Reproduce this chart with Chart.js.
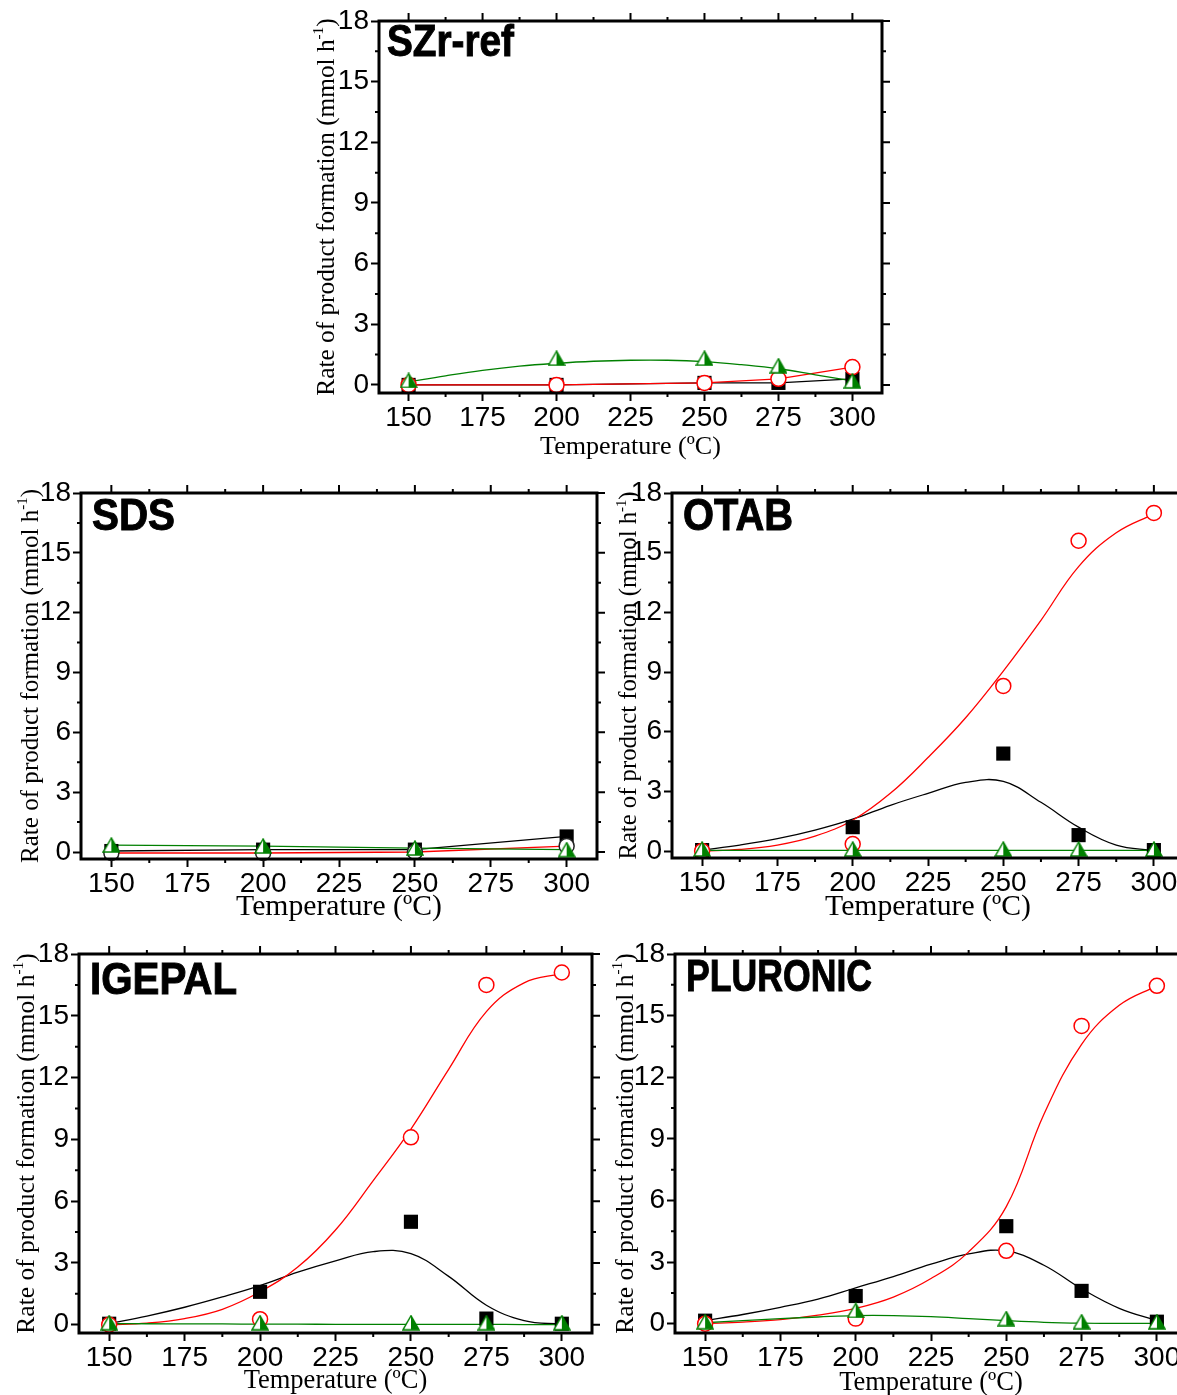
<!DOCTYPE html>
<html>
<head>
<meta charset="utf-8">
<script src="https://cdn.jsdelivr.net/npm/chart.js@4.4.1/dist/chart.umd.min.js"></script>
<style>
  html, body { margin: 0; padding: 0; background: #fff; }
  #page { position: relative; width: 1177px; height: 1395px; overflow: hidden; background: #fff; }
  #page canvas { position: absolute; }
</style>
</head>
<body>
<div id="page"></div>
<script>
// measured temperatures (ºC)
var temps = [150, 200, 250, 275, 300];
var sdsTemps = [150, 200, 250, 300];
var fitTemps = [150, 162.5, 175, 187.5, 200, 212.5, 225, 237.5, 250, 262.5, 275, 287.5, 300];
var xTicks = [150, 175, 200, 225, 250, 275, 300];
var yTicks = [0, 3, 6, 9, 12, 15, 18];

// SZr-ref
var szrSquare = [0, 0, 0.1, 0.1, 0.3];
var szrCircle = [0, 0, 0.1, 0.3, 0.88];
var szrTriangle = [0.22, 1.32, 1.32, 0.95, 0.2];
var szrTriangleFit = [0.15, 0.45, 0.72, 0.93, 1.07, 1.17, 1.22, 1.22, 1.15, 1.0, 0.8, 0.5, 0.2];

// SDS
var sdsSquare = [0.05, 0.12, 0.12, 0.78];
var sdsCircle = [-0.05, -0.05, 0, 0.3];
var sdsTriangle = [0.35, 0.3, 0.2, 0.12];

// OTAB
var otabSquare = [0.05, 1.2, 4.9, 0.8, 0.05];
var otabCircle = [0, 0.35, 8.3, 15.6, 17.0];
var otabTriangle = [0.1, 0.1, 0.1, 0.1, 0.1];
var otabSquareFit = [0.05, 0.3, 0.62, 1.05, 1.6, 2.3, 2.9, 3.45, 3.5, 2.45, 1.2, 0.3, 0.03];
var otabCircleFit = [0, 0.08, 0.3, 0.75, 1.55, 2.9, 4.7, 6.7, 9.05, 11.6, 14.3, 16.0, 16.95];
var otabTriangleFit = [0.03, 0.03, 0.03, 0.03, 0.03, 0.03, 0.03, 0.03, 0.03, 0.03, 0.03, 0.03, 0.03];

// IGEPAL
var igepalSquare = [0.05, 1.6, 5.0, 0.3, 0.05];
var igepalCircle = [0, 0.27, 9.1, 16.5, 17.1];
var igepalTriangle = [0.1, 0.1, 0.1, 0.1, 0.1];
var igepalSquareFit = [0.05, 0.42, 0.85, 1.35, 1.9, 2.55, 3.1, 3.55, 3.45, 2.35, 0.95, 0.2, 0.02];
var igepalCircleFit = [0, 0.08, 0.3, 0.75, 1.6, 2.8, 4.6, 7.0, 9.5, 12.4, 15.2, 16.6, 17.05];
var igepalTriangleFit = [0.05, 0.05, 0.04, 0.04, 0.03, 0.03, 0.02, 0.02, 0.02, 0.02, 0.02, 0.01, 0.01];

// PLURONIC
var pluSquare = [0.15, 1.35, 4.75, 1.6, 0.1];
var pluCircle = [0, 0.25, 3.55, 14.5, 16.45];
var pluTriangle = [0.1, 0.65, 0.25, 0.1, 0.1];
var pluSquareFit = [0.15, 0.45, 0.8, 1.2, 1.75, 2.3, 2.9, 3.4, 3.55, 2.85, 1.7, 0.75, 0.15];
var pluCircleFit = [0, 0.08, 0.2, 0.42, 0.75, 1.3, 2.2, 3.5, 5.7, 10.2, 13.6, 15.5, 16.45];
var pluTriangleFit = [0.05, 0.15, 0.25, 0.33, 0.4, 0.4, 0.35, 0.25, 0.15, 0.07, 0.03, 0.02, 0.02];

var RED = '#ff0000', GREEN = '#008000', BLACK = '#000000';
var TICK_FONT = "'Liberation Sans Narrow', 'Liberation Sans', Arial, sans-serif";
var SERIF = "'Liberation Serif', 'Times New Roman', serif";

function pts(xs, ys) {
  return xs.map(function (x, i) { return { x: x, y: ys[i] }; });
}

function halfTriangle(color) {
  var w = 18, h = 16;
  var c = document.createElement('canvas');
  c.width = w; c.height = h;
  var g = c.getContext('2d');
  g.fillStyle = '#fff';
  g.beginPath(); g.moveTo(w / 2, 1); g.lineTo(1, h - 1); g.lineTo(w / 2, h - 1); g.closePath(); g.fill();
  g.fillStyle = color;
  g.beginPath(); g.moveTo(w / 2, 1); g.lineTo(w - 1, h - 1); g.lineTo(w / 2, h - 1); g.closePath(); g.fill();
  g.strokeStyle = color; g.lineWidth = 1.5; g.lineJoin = 'miter';
  g.beginPath(); g.moveTo(w / 2, 1); g.lineTo(1, h - 1); g.lineTo(w - 1, h - 1); g.closePath(); g.stroke();
  return c;
}
var triImg = halfTriangle(GREEN);

// frame, minor/mirror ticks, axis titles and panel name
var framePlugin = {
  id: 'frame',
  afterDraw: function (chart, args, o) {
    var ctx = chart.ctx, a = chart.chartArea;
    var xs = chart.scales.x, ys = chart.scales.y;
    ctx.save();
    ctx.strokeStyle = '#000';
    ctx.lineWidth = 2;
    ctx.beginPath();
    var v, p, len;
    for (v = 150; v <= xs.max; v += 12.5) {
      p = xs.getPixelForValue(v);
      len = (v % 25 === 0) ? 8 : 4;
      if (v % 25 !== 0) { ctx.moveTo(p, a.bottom); ctx.lineTo(p, a.bottom + len); }
      ctx.moveTo(p, a.top); ctx.lineTo(p, a.top - len);
    }
    for (v = 0; v <= 18; v += 1.5) {
      p = ys.getPixelForValue(v);
      len = (v % 3 === 0) ? 8 : 4;
      if (v % 3 !== 0) { ctx.moveTo(a.left, p); ctx.lineTo(a.left - len, p); }
      ctx.moveTo(a.right, p); ctx.lineTo(a.right + len, p);
    }
    ctx.stroke();
    ctx.lineWidth = 3;
    ctx.strokeRect(a.left, a.top, a.right - a.left, a.bottom - a.top);

    // x title
    ctx.fillStyle = '#000';
    var xt = 'Temperature (ºC)';
    ctx.font = '26px ' + SERIF;
    var fs = 26 * o.xTitleWidth / ctx.measureText(xt).width;
    ctx.font = fs.toFixed(1) + 'px ' + SERIF;
    ctx.textAlign = 'center';
    ctx.textBaseline = 'alphabetic';
    ctx.fillText(xt, (a.left + a.right) / 2, a.bottom + o.xTitleY);

    // y title with superscript
    var main = 'Rate of product formation (mmol h', sup = '-1', end = ')';
    ctx.font = '25px ' + SERIF;
    var base = ctx.measureText(main + end).width;
    ctx.font = '15px ' + SERIF;
    base += ctx.measureText(sup).width;
    var ys2 = 25 * o.yTitleLength / base;
    ctx.font = ys2.toFixed(1) + 'px ' + SERIF;
    var w1 = ctx.measureText(main).width, w3 = ctx.measureText(end).width;
    ctx.font = (ys2 * 0.6).toFixed(1) + 'px ' + SERIF;
    var w2 = ctx.measureText(sup).width;
    var total = w1 + w2 + w3;
    ctx.translate(a.left + o.yTitleX, (a.top + a.bottom) / 2);
    ctx.rotate(-Math.PI / 2);
    ctx.textAlign = 'left';
    ctx.font = ys2.toFixed(1) + 'px ' + SERIF;
    ctx.fillText(main, -total / 2, 0);
    ctx.font = (ys2 * 0.6).toFixed(1) + 'px ' + SERIF;
    ctx.fillText(sup, -total / 2 + w1, -ys2 * 0.42);
    ctx.font = ys2.toFixed(1) + 'px ' + SERIF;
    ctx.fillText(end, -total / 2 + w1 + w2, 0);
    ctx.setTransform(1, 0, 0, 1, 0, 0);

    // panel name, condensed bold sans
    ctx.font = 'bold 45px ' + "'Liberation Sans', Arial, sans-serif";
    var lw = ctx.measureText(o.label).width;
    ctx.translate(a.left + o.labelX, a.top + o.labelY);
    ctx.scale(o.labelWidth / lw, 1);
    ctx.textAlign = 'left';
    ctx.lineWidth = 1;
    ctx.strokeStyle = '#000';
    ctx.fillText(o.label, 0, 0);
    ctx.strokeText(o.label, 0, 0);
    ctx.restore();
  }
};

function pointSets(xs, sq, ci, tr, circleColor) {
  return [
    { data: pts(xs, tr), pointStyle: triImg, pointRadius: 9, order: 0 },
    { data: pts(xs, ci), pointStyle: 'circle', pointRadius: 7.5, borderColor: circleColor || RED,
      backgroundColor: '#fff', borderWidth: 1.5, order: 1 },
    { data: pts(xs, sq), pointStyle: 'rect', pointRadius: 10, borderColor: BLACK,
      backgroundColor: BLACK, borderWidth: 0, order: 2 }
  ];
}

function lineSet(xs, ys, color, smooth, order) {
  return { data: pts(xs, ys), showLine: true, pointRadius: 0, borderColor: color, borderWidth: 1.3,
    fill: false, tension: smooth ? 0.4 : 0, order: order };
}

var panels = [
  { label: 'SZr-ref', L: 379, T: 21, R: 882, B: 393, yMin: -0.4,
    labelX: 8, labelY: 35, labelWidth: 127, xTitleWidth: 181, xTitleY: 61, yTitleX: -45, yTitleLength: 378,
    datasets: pointSets(temps, szrSquare, szrCircle, szrTriangle).concat([
      lineSet(fitTemps, szrTriangleFit, GREEN, true, 3),
      lineSet(temps, szrCircle, RED, false, 4),
      lineSet(temps, szrSquare, BLACK, false, 5)]) },
  { label: 'SDS', L: 81, T: 493, R: 597, B: 859, yMin: -0.35,
    labelX: 11, labelY: 37, labelWidth: 83, xTitleWidth: 206, xTitleY: 56, yTitleX: -43, yTitleLength: 374,
    datasets: pointSets(sdsTemps, sdsSquare, sdsCircle, sdsTriangle, '#222').concat([
      lineSet(sdsTemps, sdsTriangle, GREEN, false, 3),
      lineSet(sdsTemps, sdsCircle, RED, false, 4),
      lineSet(sdsTemps, sdsSquare, BLACK, false, 5)]) },
  { label: 'OTAB', L: 672, T: 493, R: 1184, B: 858, yMin: -0.35,
    labelX: 11, labelY: 37, labelWidth: 110, xTitleWidth: 206, xTitleY: 57, yTitleX: -36, yTitleLength: 368,
    datasets: pointSets(temps, otabSquare, otabCircle, otabTriangle).concat([
      lineSet(fitTemps, otabTriangleFit, GREEN, true, 3),
      lineSet(fitTemps, otabCircleFit, RED, true, 4),
      lineSet(fitTemps, otabSquareFit, BLACK, true, 5)]) },
  { label: 'IGEPAL', L: 79, T: 954, R: 592, B: 1333, yMin: -0.4,
    labelX: 11, labelY: 40, labelWidth: 147, xTitleWidth: 184, xTitleY: 55, yTitleX: -45, yTitleLength: 380,
    datasets: pointSets(temps, igepalSquare, igepalCircle, igepalTriangle).concat([
      lineSet(fitTemps, igepalTriangleFit, GREEN, true, 3),
      lineSet(fitTemps, igepalCircleFit, RED, true, 4),
      lineSet(fitTemps, igepalSquareFit, BLACK, true, 5)]) },
  { label: 'PLURONIC', L: 675, T: 954, R: 1187, B: 1333, yMin: -0.45,
    labelX: 11, labelY: 37, labelWidth: 186, xTitleWidth: 184, xTitleY: 57, yTitleX: -42, yTitleLength: 380,
    datasets: pointSets(temps, pluSquare, pluCircle, pluTriangle).concat([
      lineSet(fitTemps, pluTriangleFit, GREEN, true, 3),
      lineSet(fitTemps, pluCircleFit, RED, true, 4),
      lineSet(fitTemps, pluSquareFit, BLACK, true, 5)]) }
];

var PAD_LEFT = 90, PAD_TOP = 25, PAD_RIGHT = 20, PAD_BOTTOM = 80;
var page = document.getElementById('page');

panels.forEach(function (pn) {
  var cv = document.createElement('canvas');
  cv.width = (pn.R - pn.L) + PAD_LEFT + PAD_RIGHT;
  cv.height = (pn.B - pn.T) + PAD_TOP + PAD_BOTTOM;
  cv.style.left = (pn.L - PAD_LEFT) + 'px';
  cv.style.top = (pn.T - PAD_TOP) + 'px';
  page.appendChild(cv);

  pn.datasets.forEach(function (d) { d.clip = false; });

  new Chart(cv.getContext('2d'), {
    type: 'scatter',
    data: { datasets: pn.datasets },
    options: {
      responsive: false,
      animation: false,
      events: [],
      layout: { padding: { left: 0, top: PAD_TOP, right: PAD_RIGHT, bottom: 0 } },
      plugins: {
        legend: { display: false },
        tooltip: { enabled: false },
        frame: pn
      },
      scales: {
        x: {
          type: 'linear', min: 140, max: 310,
          afterBuildTicks: function (s) { s.ticks = xTicks.map(function (v) { return { value: v }; }); },
          afterFit: function (s) { s.height = PAD_BOTTOM; },
          ticks: { color: '#000', font: { family: TICK_FONT, size: 28 }, padding: 0, maxRotation: 0,
            callback: function (v) { return String(v); } },
          grid: { display: true, drawOnChartArea: false, drawTicks: true, tickLength: 8, tickWidth: 2, tickColor: '#000' },
          border: { display: false }
        },
        y: {
          type: 'linear', min: pn.yMin, max: 18,
          afterBuildTicks: function (s) { s.ticks = yTicks.map(function (v) { return { value: v }; }); },
          afterFit: function (s) { s.width = PAD_LEFT; },
          ticks: { color: '#000', font: { family: TICK_FONT, size: 28 }, padding: 2,
            callback: function (v) { return String(v); } },
          grid: { display: true, drawOnChartArea: false, drawTicks: true, tickLength: 8, tickWidth: 2, tickColor: '#000' },
          border: { display: false }
        }
      }
    },
    plugins: [framePlugin]
  });
});
</script>
</body>
</html>
